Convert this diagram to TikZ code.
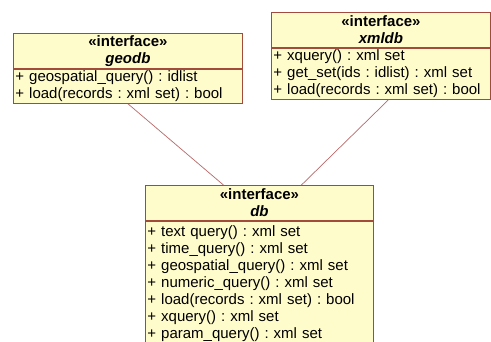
\documentclass[tikz,border=0pt]{standalone}
\usepackage{fontspec}
\setmainfont{Liberation Sans}
\usetikzlibrary{positioning}
\definecolor{fondoUml}{HTML}{FFFCCC}
\definecolor{bordeUml}{HTML}{A24A3C}
\definecolor{lineaUml}{HTML}{B86A6A}
\frenchspacing

\begin{document}
\begin{tikzpicture}[x=1pt, y=-1pt, font=\fontsize{15}{17}\selectfont,
        head/.style={draw=bordeUml, fill=fondoUml, line width=0.9pt, anchor=north west,
            minimum height=35pt, inner sep=1pt, align=center},
        body/.style={draw=bordeUml, fill=fondoUml, line width=0.9pt, anchor=north,
            inner xsep=2pt, inner ysep=1pt, align=left},
        dep/.style={lineaUml, line width=0.7pt}]
        \clip (0,0) rectangle (491,341);
        \fill[white] (0,0) rectangle (491,341);
        \node[head, minimum width=229pt] (gh) at (13,33) {\textbf{«interface»}\\\textbf{\textit{geodb}}};
        \node[body, text width=225pt, minimum height=34pt] (gb) at (gh.south)
            {+ geospatial\_query() : idlist\\+ load(records : xml set) : bool};
        \node[head, minimum width=219pt] (xh) at (271,12) {\textbf{«interface»}\\\textbf{\textit{xmldb}}};
        \node[body, text width=215pt, minimum height=51pt] (xb) at (xh.south)
            {+ xquery() : xml set\\+ get\_set(ids : idlist) : xml set\\+ load(records : xml set) : bool};
        \node[head, minimum width=228pt] (dh) at (145,185) {\textbf{«interface»}\\\textbf{\textit{db}}};
        \node[body, text width=224pt, minimum height=125pt] (db) at (dh.south)
            {+ text query() : xml set\\+ time\_query() : xml set\\+ geospatial\_query() : xml set\\
             + numeric\_query() : xml set\\+ load(records : xml set) : bool\\+ xquery() : xml set\\
             + param\_query() : xml set};
        \draw[dep] (gb.south) -- ([xshift=-36pt]dh.north);
        \draw[dep] ([xshift=7.5pt]xb.south) -- ([xshift=42pt]dh.north);
    \end{tikzpicture}
\end{document}
